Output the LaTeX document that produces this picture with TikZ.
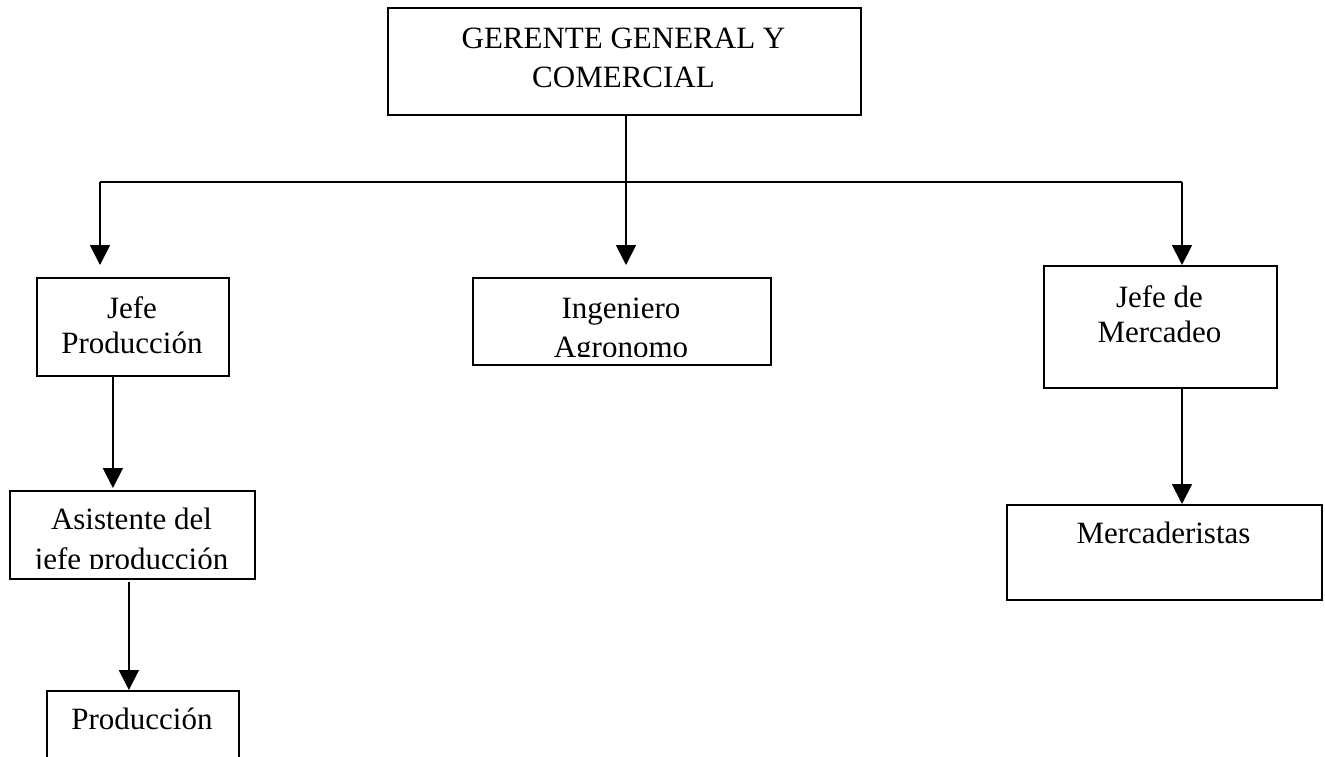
\documentclass[tikz,border=0pt]{standalone}
\usepackage{fontspec}
\setmainfont{Liberation Serif}
\usetikzlibrary{arrows.meta,calc}
\begin{document}
\begin{tikzpicture}[x=1pt,y=-1pt,
  box/.style={draw, line width=1.8pt, rectangle, anchor=north west, inner sep=0pt},
  txt/.style={anchor=base, inner sep=0pt, font=\fontsize{31}{36}\selectfont},
  ln/.style={line width=1.8pt},
  arr/.style={line width=1.8pt, -{Triangle[width=20pt,length=20pt]}}]
\useasboundingbox (0,0) rectangle (1325,756);
\clip (0,0) rectangle (1325,756);
\fill[white] (0,0) rectangle (1325,756);
% boxes
\node[box, minimum width=473pt, minimum height=107pt] (G)  at (387,7)   {};
\node[box, minimum width=192pt, minimum height=98pt]  (JP) at (36,277)  {};
\node[box, minimum width=298pt, minimum height=87pt]  (IA) at (472,277) {};
\node[box, minimum width=233pt, minimum height=122pt] (JM) at (1043,265) {};
\node[box, minimum width=245pt, minimum height=88pt]  (AJ) at (9,490)   {};
\node[box, minimum width=192pt, minimum height=90pt]  (P)  at (46,690)  {};
\node[box, minimum width=315pt, minimum height=95pt]  (M)  at (1006,504) {};
% texts
\node[txt] (G1) at (623.5,48) {GERENTE GENERAL Y};
\node[txt] (G2) at (623.5,87) {COMERCIAL};
\node[txt] (JP1) at (132,318) {Jefe};
\node[txt] (JP2) at (132,353) {Producción};
\begin{scope}
  \clip (IA.north west) rectangle ($(IA.south east)+(0,-9)$);
  \node[txt] (IA1) at (621,318) {Ingeniero};
  \node[txt] (IA2) at (621,357) {Agronomo};
\end{scope}
\node[txt] (JM1) at (1159.5,307) {Jefe de};
\node[txt] (JM2) at (1159.5,342) {Mercadeo};
\begin{scope}
  \clip (AJ.north west) rectangle ($(AJ.south east)+(0,-11)$);
  \node[txt] (AJ1) at (131.5,529) {Asistente del};
  \node[txt] (AJ2) at (131.5,569) {jefe producción};
\end{scope}
\node[txt] (P1) at (142,729) {Producción};
\node[txt] (M1) at (1163.5,543) {Mercaderistas};
% connectors
\coordinate (hub) at (626,182);
\coordinate (hl) at (100,182);
\coordinate (hr) at (1182,182);
\draw[ln] (G.south -| hub) -- (hub);
\draw[ln] (hl) -- (hr);
\draw[arr] (hl) -- ($(hl |- JP.north)+(0,-12)$);
\draw[arr] (hub) -- ($(hub |- IA.north)+(0,-12)$);
\draw[arr] (hr) -- (hr |- JM.north);
\draw[arr] ($(JP.south)+(-20,0)$) -- ($(JP.south |- AJ.north)+(-20,-2)$);
\draw[arr] ($(AJ.south)+(-3.5,2)$) -- ($(AJ.south |- P.north)+(-3.5,0)$);
\draw[arr] (JM.south -| hr) -- (hr |- M.north);
\end{tikzpicture}
\end{document}
